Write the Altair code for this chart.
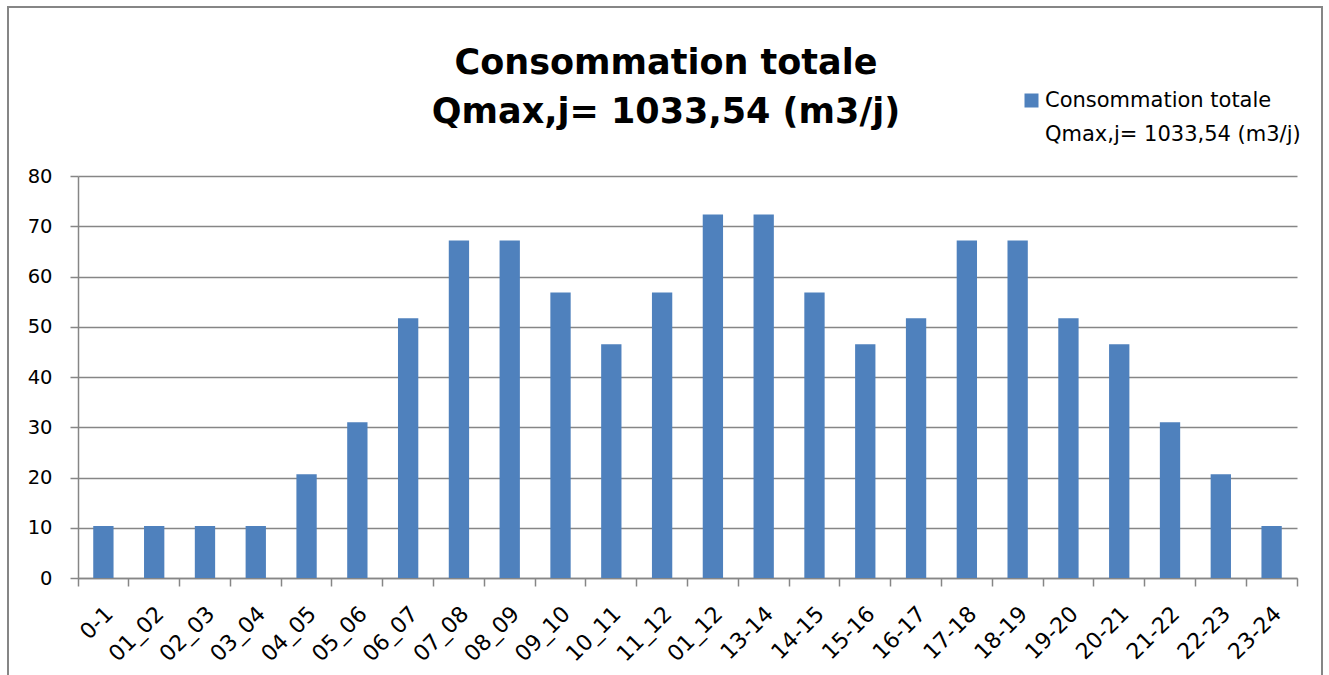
import altair as alt
import pandas as pd

categories = ["0-1", "01_02", "02_03", "03_04", "04_05", "05_06", "06_07", "07_08",
              "08_09", "09_10", "10_11", "11_12", "01_12", "13-14", "14-15", "15-16",
              "16-17", "17-18", "18-19", "19-20", "20-21", "21-22", "22-23", "23-24"]
values = [10.34, 10.34, 10.34, 10.34, 20.67, 31.01, 51.68, 67.18,
          67.18, 56.84, 46.51, 56.84, 72.35, 72.35, 56.84, 46.51,
          51.68, 67.18, 67.18, 51.68, 46.51, 31.01, 20.67, 10.34]
series_name = "Consommation totale|Qmax,j= 1033,54 (m3/j)"
title_text = "Consommation totale|Qmax,j= 1033,54 (m3/j)"
y_ticks = [0, 10, 20, 30, 40, 50, 60, 70, 80]

df = pd.DataFrame({"cat": categories, "val": values, "serie": [series_name] * len(categories)})

FONT = "DejaVu Sans"
GRAY = "#868686"
W, H = 1219, 402

bars = alt.Chart(df).mark_bar(width=alt.RelativeBandSize(0.4), color="#4F81BD").encode(
    x=alt.X("cat:N", sort=categories, title=None,
            scale=alt.Scale(paddingInner=0, paddingOuter=0),
            axis=alt.Axis(bandPosition=1, tickExtra=True, labelOffset=6,
                          labelAngle=-45, labelAlign="right", labelBaseline="middle",
                          labelFontSize=22, labelFont=FONT, labelColor="black",
                          labelPadding=24, tickSize=8, tickColor=GRAY, domainColor=GRAY,
                          domainWidth=1.5, tickWidth=1.5, grid=False)),
    y=alt.Y("val:Q", title=None,
            scale=alt.Scale(domain=[0, 80], nice=False),
            axis=alt.Axis(values=y_ticks, labelFontSize=19.5, labelFont=FONT, labelColor="black",
                          labelPadding=18, tickSize=8, tickColor=GRAY, domainColor=GRAY,
                          domainWidth=1.5, tickWidth=1.5, grid=True, gridColor=GRAY,
                          gridWidth=1.4)),
    color=alt.Color("serie:N", scale=alt.Scale(range=["#4F81BD"]),
                    legend=alt.Legend(title=None, orient="none", legendX=943, legendY=-86,
                                      labelExpr="split(datum.label, '|')",
                                      labelFontSize=21, labelFont=FONT, labelColor="black",
                                      labelLimit=400, labelBaseline="middle",
                                      symbolType="square", symbolSize=196,
                                      symbolStrokeWidth=0, symbolOffset=0, labelOffset=3,
                                      padding=0)),
)

title = alt.Chart(pd.DataFrame({"t": [title_text]})).mark_text(
    font=FONT, fontSize=35, fontWeight="bold", color="black", align="center",
    baseline="alphabetic", lineBreak="|", lineHeight=49
).encode(text="t:N", x=alt.value(588), y=alt.value(-102))

border = alt.Chart(pd.DataFrame({"a": [0]})).mark_rect(
    fill=None, stroke=GRAY, strokeWidth=2
).encode(x=alt.value(-70), x2=alt.value(1244), y=alt.value(-169), y2=alt.value(530))

chart = alt.layer(bars, title, border).properties(
    width=W, height=H,
    autosize="none",
    padding={"left": 78, "top": 176, "right": 32, "bottom": 97},
    background="white",
).configure(style={"guide-label": {"lineHeight": 34}}).configure_view(strokeWidth=0)

chart.save("out.html", embed_options={"renderer": "svg", "actions": False})
